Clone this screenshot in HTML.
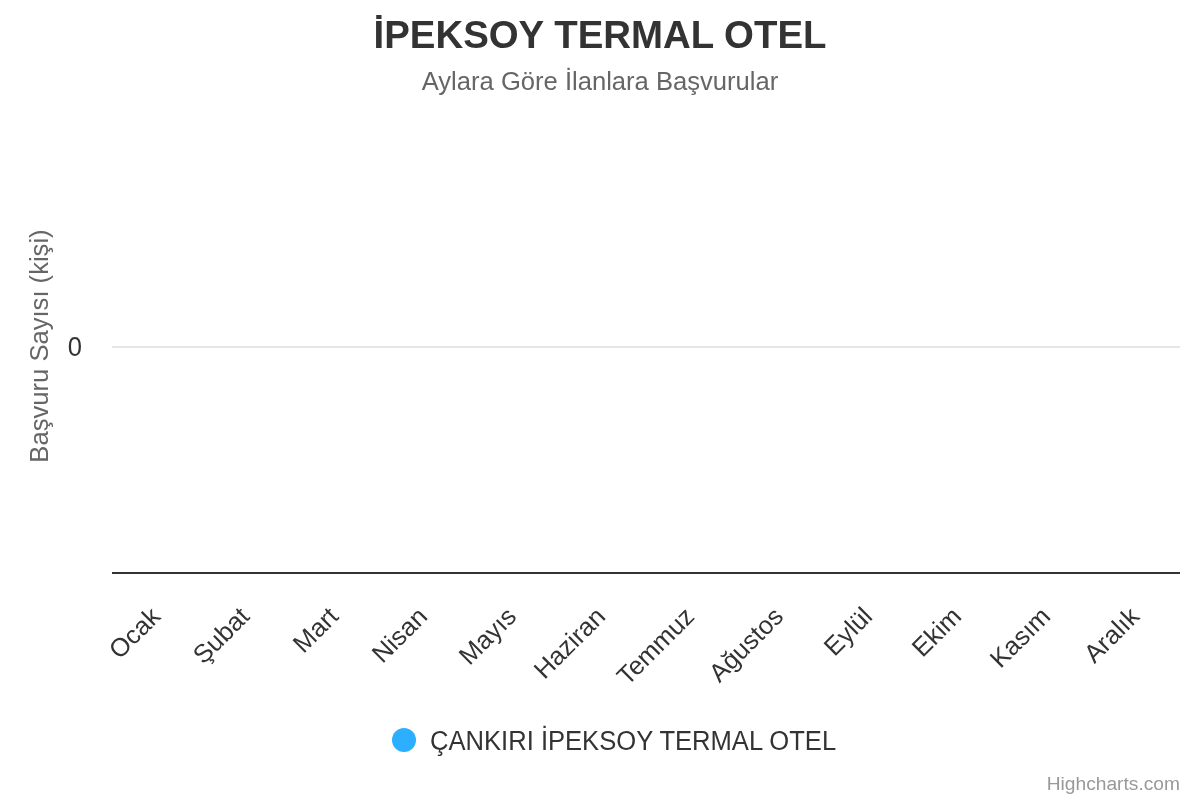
<!DOCTYPE html>
<html><head><meta charset="utf-8"><title>Chart</title>
<style>
html,body{margin:0;padding:0;background:#fff;width:1200px;height:800px;overflow:hidden;}
svg{display:block;font-family:"Liberation Sans",sans-serif;will-change:transform;}
</style></head>
<body>
<svg width="1200" height="800" viewBox="0 0 1200 800">
<rect x="0" y="0" width="1200" height="800" fill="#ffffff"/>
<!-- grid line -->
<path d="M 112 347 L 1180 347" stroke="#e6e6e6" stroke-width="2" fill="none"/>
<!-- x axis line -->
<path d="M 112 573 L 1180 573" stroke="#333333" stroke-width="2" fill="none"/>
<!-- title -->
<text x="600" y="48" text-anchor="middle" font-size="38.4" font-weight="bold" fill="#333333">İPEKSOY TERMAL OTEL</text>
<text x="600" y="90" text-anchor="middle" font-size="25.6" fill="#666666">Aylara Göre İlanlara Başvurular</text>
<!-- y axis title -->
<text x="0" y="0" text-anchor="middle" font-size="25.6" fill="#666666" transform="translate(48 346) rotate(270)">Başvuru Sayısı (kişi)</text>
<text x="0" y="0" text-anchor="end" font-size="25.6" fill="#333333" transform="translate(82 356) scale(1 1.055)">0</text>
<!-- x labels -->
<g font-size="25.6" fill="#333333" text-anchor="end">
<text x="161.8" y="618" transform="rotate(-45 161.8 618)">Ocak</text>
<text x="250.8" y="618" transform="rotate(-45 250.8 618)">Şubat</text>
<text x="339.8" y="618" transform="rotate(-45 339.8 618)">Mart</text>
<text x="428.8" y="618" transform="rotate(-45 428.8 618)">Nisan</text>
<text x="517.8" y="618" transform="rotate(-45 517.8 618)">Mayıs</text>
<text x="606.8" y="618" transform="rotate(-45 606.8 618)">Haziran</text>
<text x="695.8" y="618" transform="rotate(-45 695.8 618)">Temmuz</text>
<text x="784.8" y="618" transform="rotate(-45 784.8 618)">Ağustos</text>
<text x="873.8" y="618" transform="rotate(-45 873.8 618)">Eylül</text>
<text x="962.8" y="618" transform="rotate(-45 962.8 618)">Ekim</text>
<text x="1051.8" y="618" transform="rotate(-45 1051.8 618)">Kasım</text>
<text x="1140.8" y="618" transform="rotate(-45 1140.8 618)">Aralık</text>
</g>
<!-- legend -->
<circle cx="404" cy="740" r="12" fill="#2caffe"/>
<text x="0" y="0" font-size="25.6" fill="#333333" transform="translate(430 750) scale(1 1.055)">ÇANKIRI İPEKSOY TERMAL OTEL</text>
<!-- credits -->
<text x="1180" y="790" text-anchor="end" font-size="19.2" fill="#999999">Highcharts.com</text>
</svg>
</body></html>
